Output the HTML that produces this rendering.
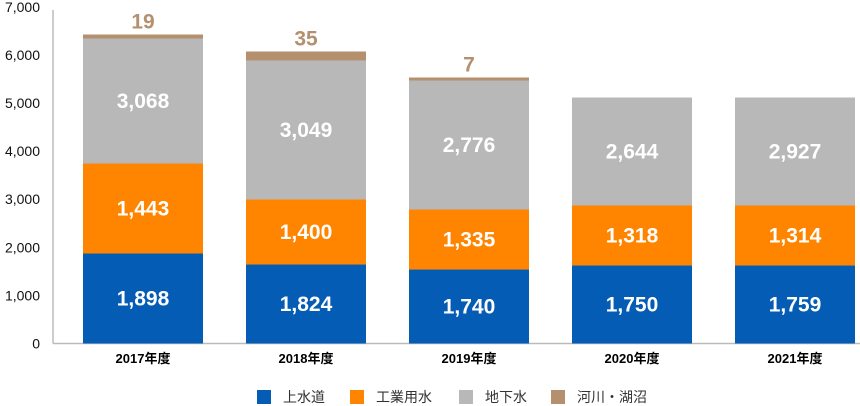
<!DOCTYPE html>
<html><head><meta charset="utf-8">
<style>
body{margin:0;background:#fff;}
svg{display:block;font-family:"Liberation Sans","Noto Sans CJK JP",sans-serif;}
</style></head>
<body>
<svg id="chart" width="860" height="406" viewBox="0 0 860 406"></svg>
<script>
const categories = ["2017年度","2018年度","2019年度","2020年度","2021年度"];
const seriesNames = ["上水道","工業用水","地下水","河川・湖沼"];
const tapWater = [1871,1642,1538,1622,1622];
const industrialWater = [1871,1352,1248,1247,1247];
const groundWater = [2599,2890,2682,2245,2245];
const riverLake = [83,187,62,0,0];
const tapLabels = ["1,898","1,824","1,740","1,750","1,759"];
const industrialLabels = ["1,443","1,400","1,335","1,318","1,314"];
const groundLabels = ["3,068","3,049","2,776","2,644","2,927"];
const riverLabels = ["19","35","7","",""];
const yTicks = [0,1000,2000,3000,4000,5000,6000,7000];
const yTickLabels = ["0","1,000","2,000","3,000","4,000","5,000","6,000","7,000"];

const NS="http://www.w3.org/2000/svg";
const svg=document.getElementById('chart');
const y0=343.5, pxPer=48.1/1000;
function y(v){return y0 - v*pxPer;}
function x(i){return 83 + i*163;}
const barW=120;
const colors=["#045cb4","#ff8500","#b8b8b8","#b5906e"];
function el(t,a){const e=document.createElementNS(NS,t);for(const k in a)e.setAttribute(k,a[k]);svg.appendChild(e);return e;}

yTicks.forEach((t,i)=>{
  const tx=el('text',{x:40,y:y(t)+5,'text-anchor':'end','font-size':14,fill:'#111'});
  tx.textContent=yTickLabels[i];
  
  
});
const ax=el('line',{x1:53,y1:10,x2:53,y2:y0,stroke:'#bbb','stroke-width':1.5});


const bx=el('line',{x1:53,y1:y0,x2:860,y2:y0,stroke:'#bbb','stroke-width':1.5});



const series=[tapWater,industrialWater,groundWater,riverLake];
const labels=[tapLabels,industrialLabels,groundLabels,riverLabels];
categories.forEach((c,i)=>{
  let base=0;
  series.forEach((s,k)=>{
    const v=s[i];
    if(v>0){
      const r=el('rect',{x:x(i),y:y(base+v),width:barW,height:v*pxPer,fill:colors[k]});
      
      
    }
    const lab=labels[k][i];
    if(lab){
      let t;
      if(k<3){
        t=el('text',{x:x(i)+barW/2,y:y(base+v/2)+7,'text-anchor':'middle','font-size':21,'font-weight':'bold',fill:'#fff'});
      }else{
        t=el('text',{x:x(i)+barW/2,y:y(base+v)-6,'text-anchor':'middle','font-size':21,'font-weight':'bold',fill:'#b5906e'});
      }
      t.textContent=lab;
      
      
    }
    base+=v;
  });
  const xl=el('text',{x:x(i)+barW/2,y:363,'text-anchor':'middle','font-size':13,'font-weight':'bold',fill:'#000'});
  xl.textContent=c;
  
  
});

const legX=[257,350,459,551];
seriesNames.forEach((n,k)=>{
  const r=el('rect',{x:legX[k],y:390,width:14,height:14,fill:colors[k]});
  
  
  const t=el('text',{x:legX[k]+26,y:402,'font-size':14,fill:'#333'});
  t.textContent=n;
  
  
});
</script>
</body></html>
